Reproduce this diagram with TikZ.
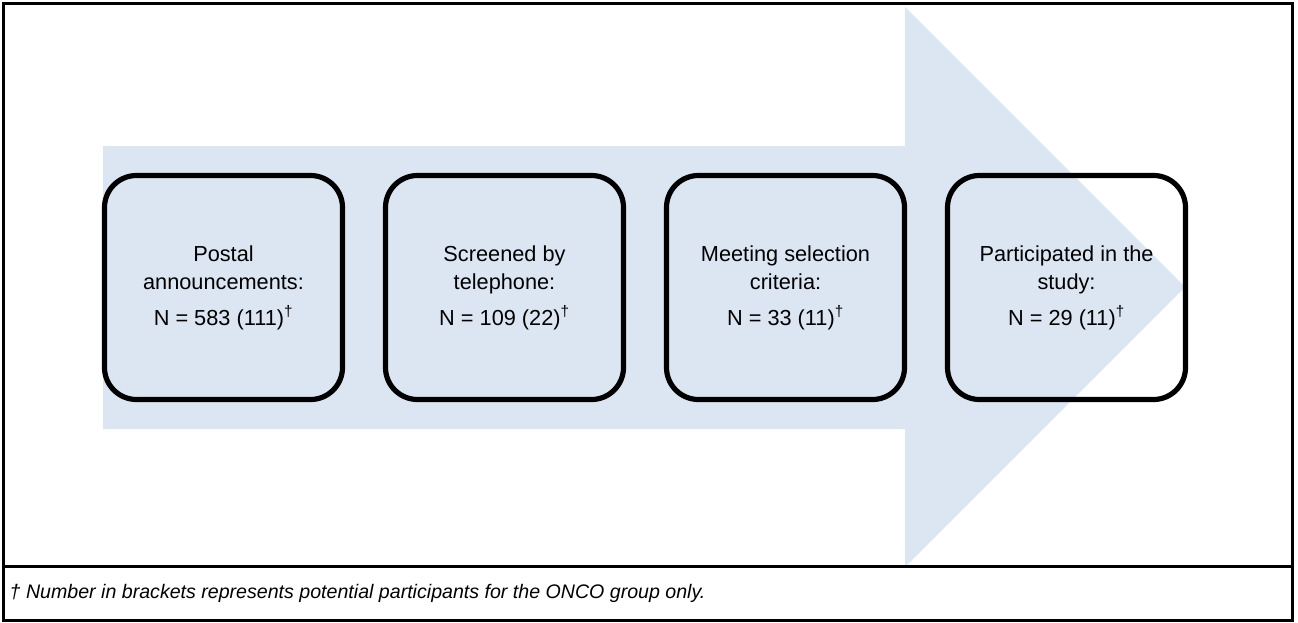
\documentclass[tikz,border=0pt]{standalone}
\usepackage{fontspec}
\setmainfont{Liberation Sans}
\usetikzlibrary{positioning}
\definecolor{arrowfill}{RGB}{220,230,242}

\begin{document}
\begin{tikzpicture}[x=0.75pt,y=-0.75pt,node distance=210.75pt,on grid,
  stage/.style={draw,line width=3.9pt,rounded corners=24pt,minimum width=178.5pt,
    minimum height=168pt,inner sep=0pt,align=center,font=\fontsize{16.3}{21}\selectfont}]
\useasboundingbox (0,0) rectangle (1298,622);
% big arrow behind the boxes
\fill[arrowfill] (103,146) -- (905,146) -- (905,7) -- (1185,287) -- (905,567)
  -- (905,429) -- (103,429) -- cycle;

\node[stage] (s1) at (223.5,287.5) {Postal\\announcements:\\[6pt]N = 583 (111)\textsuperscript{†}};
\node[stage] (s2) [right=of s1] {Screened by\\telephone:\\[6pt]N = 109 (22)\textsuperscript{†}};
\node[stage] (s3) [right=of s2] {Meeting selection\\criteria:\\[6pt]N = 33 (11)\textsuperscript{†}};
\node[stage] (s4) [right=of s3] {Participated in the\\study:\\[6pt]N = 29 (11)\textsuperscript{†}};

% frame and footnote
\draw[line width=2.25pt] (3,3) rectangle (1292,620);
\draw[line width=2.25pt] (3,566) -- (1292,566);
\node[anchor=west,font=\itshape\fontsize{14.7}{18}\selectfont] (note) at (5,593)
  {† Number in brackets represents potential participants for the ONCO group only.};
\end{tikzpicture}
\end{document}
